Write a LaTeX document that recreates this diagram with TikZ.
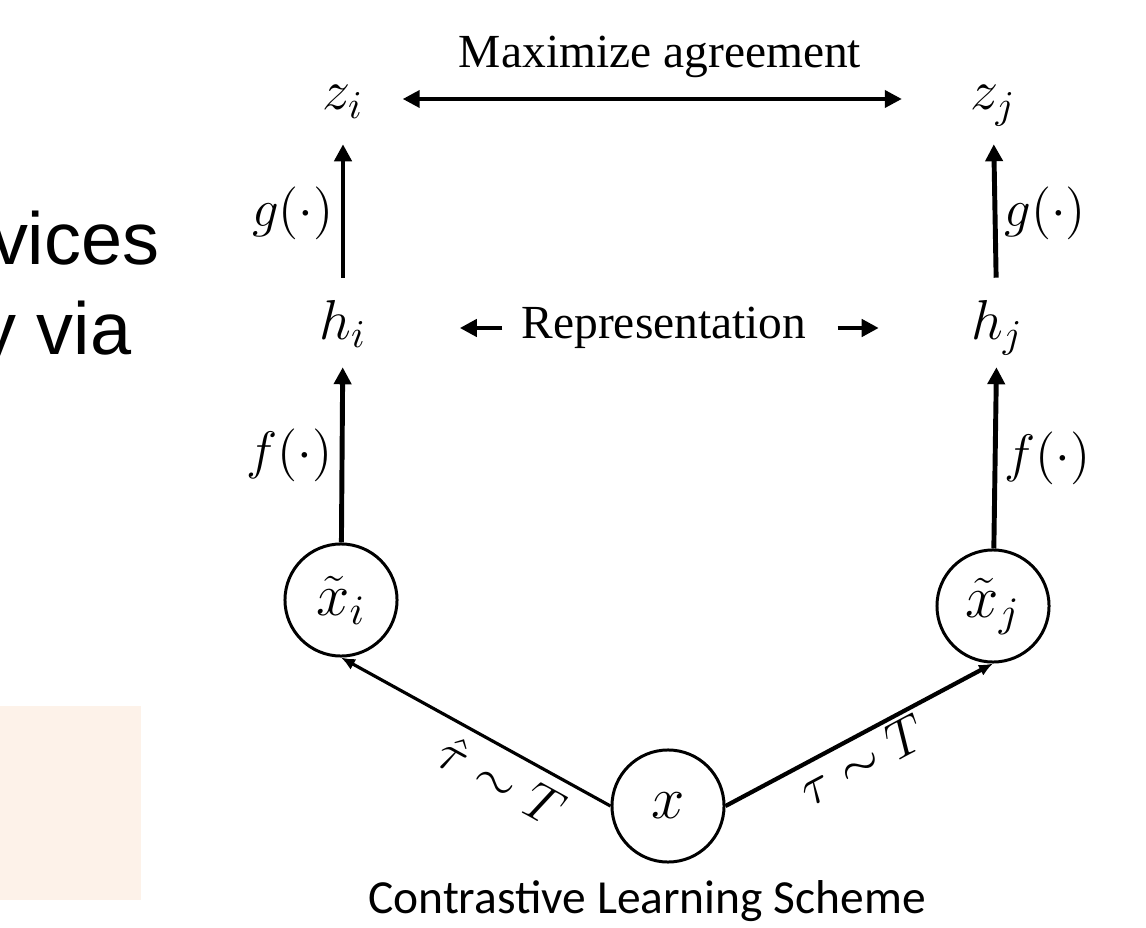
\RequirePackage{fix-cm}
\documentclass[tikz,border=0pt]{standalone}
\usepackage{amsmath}
\usepackage{fontspec}
\newfontfamily\timesfont{Liberation Serif}
\newfontfamily\calfont{Carlito}
\newfontfamily\arialfont{Liberation Sans}
\usepackage{xcolor}
\usepackage{tikz}
\usetikzlibrary{arrows.meta}
\definecolor{peach}{RGB}{253,242,233}

\begin{document}
\begin{tikzpicture}[
  x=0.01cm, y=-0.01cm,
  every node/.style={inner sep=3pt},
  mth/.style ={font=\fontsize{16}{19}\selectfont, text height=3.9mm, text depth=1.7mm},
  var/.style ={draw, circle, line width=0.85pt, minimum size=11.2mm, inner sep=0pt,
               font=\fontsize{17}{20}\selectfont},
  fn/.style  ={font=\fontsize{15}{18}\selectfont, inner sep=2pt},
  txt/.style ={font=\timesfont\fontsize{13.5}{16}\selectfont},
  slide/.style={font=\arialfont\fontsize{21}{25}\selectfont, inner sep=0pt},
  arr/.style ={-{Triangle[length=1.7mm,width=1.7mm]}, line width=1.4pt},
  arrb/.style={{Triangle[length=1.7mm,width=1.7mm]}-{Triangle[length=1.7mm,width=1.7mm]},
               line width=1.1pt},
  arrd/.style={-{Latex[length=1.4mm,width=1.2mm]}, line width=0.9pt}
]
% --- page frame (pixel units) ---
\clip (0,0) rectangle (1146,928);
\useasboundingbox (0,0) rectangle (1146,928);

% --- slide remnants on the left ---
\node[slide, anchor=base east] (sl1) at (160,265) {vices};
\node[slide, anchor=base east] (sl2) at (132,355) {y via};
\fill[peach] (0,706) rectangle (141,900);

% --- inputs and views ---
\node[var] (xin) at (668,806) {$x$};
\node[var] (xti) at (341,600) {$\tilde{x}_i$};
\node[var] (xtj) at (993,606) {$\tilde{x}_j$};

% --- representations and projections ---
\node[mth] (hi) at (343,328) {$h_i$};
\node[mth] (hj) at (997,328) {$h_j$};
\node[mth] (zi) at (343,99)  {$z_i$};
\node[mth] (zj) at (993,99)  {$z_j$};

% --- text labels ---
\node[txt] (agree) at (660,57)  {Maximize agreement};
\node[txt] (rep)   at (664,328) {Representation};
\node[font=\calfont\fontsize{13.5}{16}\selectfont] (cap) at (647,901)
  {Contrastive Learning Scheme};

% --- augmentations ---
\draw[arrd] (xin.west) -- (xti.south)
  node[pos=0.35, sloped, below, fn, inner sep=3pt] {$\hat{\tau}\sim T$};
\draw[arrd, line width=1.2pt] (xin.east) -- (xtj.south)
  node[pos=0.47, sloped, below, fn, inner sep=1pt] {$\tau\sim T$};

% --- encoder f and projection g ---
\draw[arr] (xti) -- (hi) node[midway, left, fn] {$f(\cdot)$};
\draw[arr] (xtj) -- (hj) node[midway, right, fn] {$f(\cdot)$};
\draw[arr, shorten <=1.1mm, shorten >=0.6mm] (hi) -- (zi) node[midway, left, fn] {$g(\cdot)$};
\draw[arr, shorten <=1.1mm, shorten >=0.6mm] (hj) -- (zj) node[midway, right, fn] {$g(\cdot)$};

% --- agreement and representation arrows ---
\draw[arrb, shorten <=2.8mm, shorten >=5.7mm] (zi) -- (zj);
\draw[arr, shorten <=0.8mm, shorten >=8.2mm] (rep.west) -- (hi.east);
\draw[arr, shorten <=2mm,   shorten >=8.1mm] (rep.east) -- (hj.west);

\end{tikzpicture}
\end{document}
